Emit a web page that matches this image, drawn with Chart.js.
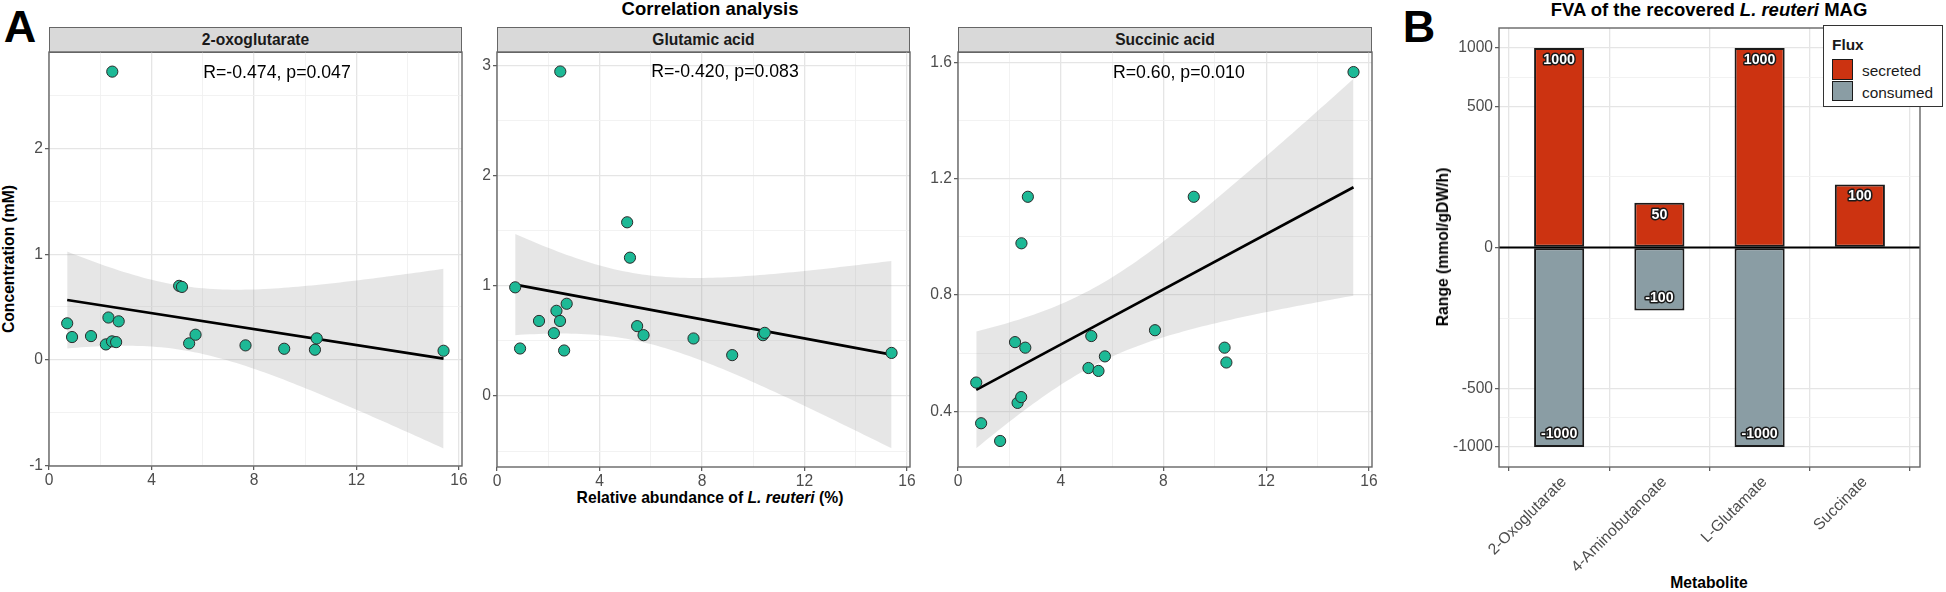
<!DOCTYPE html>
<html><head><meta charset="utf-8">
<script src="https://cdn.jsdelivr.net/npm/chart.js@4/dist/chart.umd.min.js"></script>
<style>
body{margin:0;width:1946px;height:592px;background:#fff;position:relative;overflow:hidden;font-family:"Liberation Sans",Arial,sans-serif;color:#000;}
canvas{position:absolute;}
.t{position:absolute;white-space:nowrap;transform:translate(-50%,-50%);}
.strip{position:absolute;background:#d9d9d9;border:1.4px solid #666;box-sizing:border-box;font-weight:bold;font-size:15.6px;line-height:16px;color:#1a1a1a;display:flex;align-items:center;justify-content:center;}
#legend{position:absolute;left:1823px;top:25px;width:120px;height:82px;border:1px solid #333;box-sizing:border-box;background:#fff;z-index:5;}
.sw{position:absolute;width:21px;height:21px;border:1.6px solid #1a1a1a;box-sizing:border-box;}
.lt{position:absolute;font-size:15.4px;line-height:15px;color:#1a1a1a;white-space:nowrap;}
</style></head>
<body>
<script>
// ---------------- DATA ----------------
const abundance    = [0.71,0.90,1.64,2.22,2.32,2.46,2.47,2.62,2.72,5.08,5.19,5.47,5.72,7.67,9.18,10.38,10.45,15.40];
const oxoglutarate = [0.345,0.215,0.224,0.145,0.400,0.174,2.730,0.167,0.364,0.700,0.690,0.155,0.237,0.136,0.104,0.095,0.202,0.085];
const glutamicAcid = [0.985,0.430,0.680,0.569,0.772,0.680,2.943,0.412,0.836,1.575,1.254,0.633,0.551,0.521,0.370,0.551,0.572,0.390];
const succinicAcid = [0.499,0.359,0.298,0.638,0.429,0.449,0.978,0.619,1.138,0.549,0.659,0.539,0.589,0.679,1.138,0.619,0.568,1.567];
const panelTitles  = ['2-oxoglutarate','Glutamic acid','Succinic acid'];
const corrLabels   = ['R=-0.474, p=0.047','R=-0.420, p=0.083','R=0.60, p=0.010'];
const abundanceTicks = [0,4,8,12,16];
const oxoTicks = [-1,0,1,2];
const gluTicks = [0,1,2,3];
const sucTicks = [0.4,0.8,1.2,1.6];

const metabolites = ['2-Oxoglutarate','4-Aminobutanoate','L-Glutamate','Succinate'];
const secreted    = [1000,50,1000,100];
const consumed    = [-1000,-100,-1000,null];
const rangeTicks  = [-1000,-500,0,500,1000];
</script>

<div class="t" style="left:20px;top:26px;font-weight:bold;font-size:45px;line-height:45px;">A</div>
<div class="t" style="left:1419px;top:26px;font-weight:bold;font-size:45px;line-height:45px;">B</div>
<div class="t" style="left:710px;top:9px;font-weight:bold;font-size:18.5px;line-height:18px;">Correlation analysis</div>
<div class="t" style="left:1709px;top:9.5px;font-weight:bold;font-size:18.5px;line-height:18px;">FVA of the recovered <i>L. reuteri</i> MAG</div>
<div class="t" style="left:710px;top:498px;font-weight:bold;font-size:15.7px;line-height:16px;">Relative abundance of <i>L. reuteri</i> (%)</div>
<div class="t" style="left:9px;top:259px;font-weight:bold;font-size:15.7px;line-height:16px;transform:translate(-50%,-50%) rotate(-90deg);">Concentration (mM)</div>
<div class="t" style="left:1443px;top:247px;font-weight:bold;font-size:15.7px;line-height:16px;transform:translate(-50%,-50%) rotate(-90deg);z-index:4;">Range (mmol/gDW/h)</div>
<div class="t" style="left:1709px;top:583px;font-weight:bold;font-size:15.7px;line-height:16px;">Metabolite</div>

<div id="legend">
  <div class="lt" style="left:8px;top:10.5px;font-weight:bold;">Flux</div>
  <div class="sw" style="left:8px;top:33px;background:#cc3311;"></div>
  <div class="sw" style="left:8px;top:55px;height:20px;background:#8a9da4;"></div>
  <div class="lt" style="left:38px;top:36.5px;">secreted</div>
  <div class="lt" style="left:38px;top:58.5px;">consumed</div>
</div>

<script>
Chart.defaults.font.family = '"Liberation Sans", Arial, sans-serif';
Chart.defaults.animation = false;

const GRID_MAJOR = '#e5e5e5', GRID_MINOR = '#f1f1f1', TICK_COL = '#555', LABEL_COL = '#4d4d4d';
const TICK_FONT = {size:15.6};

function minorsOf(majors, lo, hi){
  const step = majors[1]-majors[0], out=[];
  for(let v = majors[0]-step/2; v <= majors[majors.length-1]+step/2+1e-9; v += step){
    if(v >= lo && v <= hi) out.push(+v.toFixed(6));
  }
  return out;
}
const isIn = (arr, v) => arr.some(a => Math.abs(a - v) < 1e-6);

function lmFit(xs, ys){
  const n = xs.length;
  const mx = xs.reduce((a,b)=>a+b,0)/n, my = ys.reduce((a,b)=>a+b,0)/n;
  let sxx=0, sxy=0;
  for(let i=0;i<n;i++){ sxx += (xs[i]-mx)**2; sxy += (xs[i]-mx)*(ys[i]-my); }
  const b = sxy/sxx, a = my - b*mx;
  let sse=0; for(let i=0;i<n;i++) sse += (ys[i]-a-b*xs[i])**2;
  const s = Math.sqrt(sse/(n-2));
  const tq = 2.1199; // t(0.975, df=16)
  const x0 = Math.min(...xs), x1 = Math.max(...xs);
  const lo=[], hi=[], steps=80;
  for(let k=0;k<=steps;k++){
    const x = x0 + (x1-x0)*k/steps, yh = a + b*x;
    const se = s*Math.sqrt(1/n + (x-mx)**2/sxx);
    lo.push({x, y: yh - tq*se}); hi.push({x, y: yh + tq*se});
  }
  return {line:[{x:x0,y:a+b*x0},{x:x1,y:a+b*x1}], lo, hi};
}

const framePlugin = {id:'frame', afterDraw(chart){
  const a = chart.chartArea, c = chart.ctx;
  c.save(); c.strokeStyle='#666'; c.lineWidth=1.4;
  c.strokeRect(a.left, a.top, a.right-a.left, a.bottom-a.top); c.restore();
}};

function gridOpts(majors){
  return {
    drawTicks:true, tickLength:4,
    color: ctx => isIn(majors, ctx.tick ? ctx.tick.value : NaN) ? GRID_MAJOR : GRID_MINOR,
    lineWidth: ctx => isIn(majors, ctx.tick ? ctx.tick.value : NaN) ? 1.3 : 0.9,
    tickColor: ctx => isIn(majors, ctx.tick ? ctx.tick.value : NaN) ? TICK_COL : 'rgba(0,0,0,0)',
    tickWidth: 1.2
  };
}

function makeCanvas(left, top, w, h){
  const cv = document.createElement('canvas');
  cv.width = w; cv.height = h;
  cv.style.left = left+'px'; cv.style.top = top+'px';
  cv.style.width = w+'px'; cv.style.height = h+'px';
  document.body.appendChild(cv);
  return cv;
}

// -------- Panel A (three facets) --------
const concSets = [oxoglutarate, glutamicAcid, succinicAcid];
const yTickSets = [oxoTicks, gluTicks, sucTicks];
const geomA = [
  {L:49,  R:462,  T:52, B:466, ymin:-1.007, ymax:2.916, labX:8.9},
  {L:497, R:910,  T:52, B:467, ymin:-0.645, ymax:3.12,  labX:8.9},
  {L:958, R:1372, T:52, B:467, ymin:0.2085, ymax:1.636, labX:8.6}
];
const XMAX = 16.12, YW = 48, PT = 8, PR = 10, XH = 30;

geomA.forEach((g, i) => {
  const strip = document.createElement('div');
  strip.className = 'strip';
  strip.style.left = g.L+'px'; strip.style.top = '27px';
  strip.style.width = (g.R-g.L)+'px'; strip.style.height = (g.T-27+1)+'px';
  strip.textContent = panelTitles[i];
  document.body.appendChild(strip);

  const w = (g.R-g.L)+YW+PR, h = (g.B-g.T)+PT+XH;
  const cv = makeCanvas(g.L-YW, g.T-PT, w, h);
  const ys = concSets[i];
  const fit = lmFit(abundance, ys);
  const yMaj = yTickSets[i];
  const yMin = minorsOf(yMaj, g.ymin, g.ymax);
  const xMin = minorsOf(abundanceTicks, 0, XMAX);
  const yMax = Math.max(...ys);

  const annot = {id:'annot'+i, afterDatasetsDraw(chart){
    const c = chart.ctx;
    c.save(); c.fillStyle='#000'; c.font='17.7px "Liberation Sans", Arial, sans-serif';
    c.textAlign='center'; c.textBaseline='middle';
    c.fillText(corrLabels[i], chart.scales.x.getPixelForValue(g.labX), chart.scales.y.getPixelForValue(yMax)+1);
    c.restore();
  }};

  new Chart(cv, {
    type:'scatter',
    data:{datasets:[
      {data: abundance.map((x,k)=>({x, y: ys[k]})), backgroundColor:'#1db996', borderColor:'#2a2a2a', borderWidth:1, pointRadius:5.6, order:0},
      {data: fit.line, showLine:true, pointRadius:0, borderColor:'#000', borderWidth:2.6, order:1},
      {data: fit.lo, showLine:true, pointRadius:0, borderWidth:0, borderColor:'rgba(0,0,0,0)', fill:false, order:2},
      {data: fit.hi, showLine:true, pointRadius:0, borderWidth:0, borderColor:'rgba(0,0,0,0)', fill:'-1', backgroundColor:'rgba(150,150,150,0.24)', order:2}
    ]},
    options:{
      responsive:false, devicePixelRatio:1, animation:false,
      layout:{padding:{top:PT, right:PR, left:0, bottom:0}},
      plugins:{legend:{display:false}, tooltip:{enabled:false}},
      scales:{
        x:{type:'linear', min:0, max:XMAX, border:{display:false}, grid:gridOpts(abundanceTicks),
           afterBuildTicks: s => { s.ticks = [...abundanceTicks, ...xMin].sort((a,b)=>a-b).map(v=>({value:v})); },
           afterFit: s => { s.height = XH; s.paddingLeft = 0; s.paddingRight = 0; },
           ticks:{autoSkip:false, maxRotation:0, color:LABEL_COL, font:TICK_FONT, padding:1,
                  callback: v => isIn(abundanceTicks, v) ? String(v) : ''}},
        y:{type:'linear', min:g.ymin, max:g.ymax, border:{display:false}, grid:gridOpts(yMaj),
           afterBuildTicks: s => { s.ticks = [...yMaj, ...yMin].sort((a,b)=>a-b).map(v=>({value:v})); },
           afterFit: s => { s.width = YW; s.paddingTop = 0; s.paddingBottom = 0; },
           ticks:{autoSkip:false, color:LABEL_COL, font:TICK_FONT, padding:2,
                  callback: v => isIn(yMaj, v) ? String(v) : ''}}
      }
    },
    plugins:[annot, framePlugin]
  });
});

// -------- Panel B (FVA bars, signed sqrt scale) --------
const sq = v => v == null ? null : Math.sign(v)*Math.sqrt(Math.abs(v));
const gB = {L:1499, R:1920, T:28, B:467};
const BYW = 56, BPT = 8, BPR = 8, BXH = 110;
const bMaj = rangeTicks.map(sq);
const bMin = []; for(let k=0;k<bMaj.length-1;k++) bMin.push((bMaj[k]+bMaj[k+1])/2);
const bLim = 34.78;

const barLabels = {id:'barLabels', afterDatasetsDraw(chart){
  const c = chart.ctx;
  c.save(); c.font='bold 14.2px "Liberation Sans", Arial, sans-serif';
  c.textAlign='center'; c.textBaseline='middle'; c.lineJoin='round';
  chart.data.datasets.forEach((ds, di) => {
    const meta = chart.getDatasetMeta(di);
    meta.data.forEach((el, k) => {
      const v = ds.raw[k]; if(v == null) return;
      const y = v > 0 ? el.y + 12 : el.y - 13;
      c.lineWidth = 3; c.strokeStyle = '#1a1a1a'; c.strokeText(String(v), el.x, y);
      c.fillStyle = '#fff'; c.fillText(String(v), el.x, y);
    });
  });
  c.restore();
}};
const zeroLine = {id:'zeroLine', afterDatasetsDraw(chart){
  const a = chart.chartArea, c = chart.ctx, y = chart.scales.y.getPixelForValue(0);
  c.save(); c.strokeStyle='#000'; c.lineWidth=2.2;
  c.beginPath(); c.moveTo(a.left, y); c.lineTo(a.right, y); c.stroke(); c.restore();
}};

{
  const w = (gB.R-gB.L)+BYW+BPR, h = (gB.B-gB.T)+BPT+BXH;
  const cv = makeCanvas(gB.L-BYW, gB.T-BPT, w, h);
  const catIdx = metabolites.map((m,k)=>k);
  new Chart(cv, {
    type:'bar',
    data:{datasets:[
      {label:'secreted', raw:secreted, data: catIdx.map(k=>({x:k, y:sq(secreted[k])})), backgroundColor:'#cc3311',
       borderColor:'#1a1a1a', borderWidth:2, borderSkipped:false, barPercentage:0.5, categoryPercentage:1},
      {label:'consumed', raw:consumed, data: catIdx.map(k=>({x:k, y:sq(consumed[k])})), backgroundColor:'#8a9da4',
       borderColor:'#1a1a1a', borderWidth:2, borderSkipped:false, barPercentage:0.5, categoryPercentage:1}
    ]},
    options:{
      responsive:false, devicePixelRatio:1, animation:false,
      layout:{padding:{top:BPT, right:BPR, left:0, bottom:0}},
      plugins:{legend:{display:false}, tooltip:{enabled:false}},
      scales:{
        x:{type:'linear', min:-0.6, max:metabolites.length-1+0.6, stacked:true, offset:false, border:{display:false},
           grid:{color:GRID_MAJOR, lineWidth:1.3, drawTicks:true, tickLength:4, tickColor:TICK_COL, tickWidth:1.2},
           afterBuildTicks: s => { s.ticks = catIdx.map(v=>({value:v})); },
           afterFit: s => { s.height = BXH; s.paddingLeft = 0; s.paddingRight = 0; },
           ticks:{autoSkip:false, minRotation:45, maxRotation:45, color:LABEL_COL, font:TICK_FONT, padding:2, labelOffset:5,
                  callback: v => metabolites[v]}},
        y:{type:'linear', min:-bLim, max:bLim, stacked:true, border:{display:false}, grid:gridOpts(bMaj),
           afterBuildTicks: s => { s.ticks = [...bMaj, ...bMin].sort((a,b)=>a-b).map(v=>({value:v})); },
           afterFit: s => { s.width = BYW; s.paddingTop = 0; s.paddingBottom = 0; },
           ticks:{autoSkip:false, color:LABEL_COL, font:TICK_FONT, padding:2,
                  callback: v => { const k = bMaj.findIndex(m => Math.abs(m-v) < 1e-6); return k >= 0 ? String(rangeTicks[k]) : ''; }}}
      }
    },
    plugins:[zeroLine, barLabels, framePlugin]
  });
}
</script>
</body></html>
